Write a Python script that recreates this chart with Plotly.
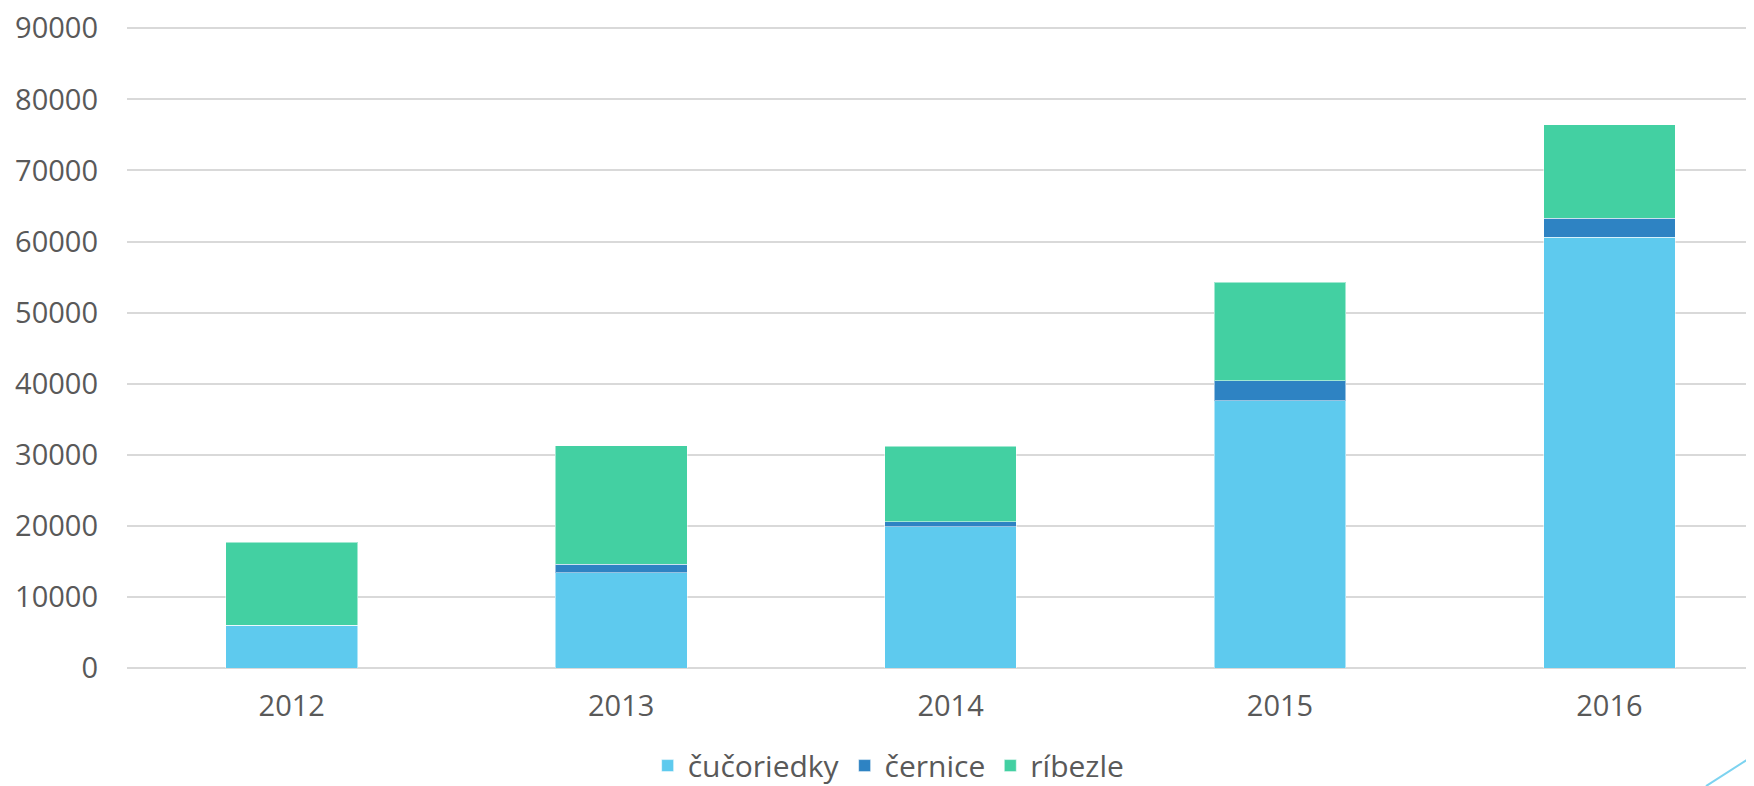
import plotly.graph_objects as go

years = ["2012", "2013", "2014", "2015", "2016"]
cucoriedky = [6000, 13400, 19900, 37600, 60600]
cernice = [0, 1200, 700, 2800, 2700]
ribezle = [11700, 16700, 10600, 13900, 13100]

series = [
    ("čučoriedky", cucoriedky, "#5ECAEE"),
    ("černice", cernice, "#2E83C3"),
    ("ríbezle", ribezle, "#43D0A2"),
]

fig = go.Figure()
for name, vals, col in series:
    fig.add_trace(go.Bar(
        x=years, y=vals, name=name,
        marker=dict(color=col, line=dict(color="rgba(255,255,255,0.5)", width=1)),
    ))

font_family = "Open Sans"
fig.update_layout(
    barmode="stack",
    bargap=0.6,
    width=1746, height=778,
    margin=dict(l=119, r=0, t=18, b=118, autoexpand=False),
    plot_bgcolor="white", paper_bgcolor="white",
    font=dict(family=font_family, size=29, color="#595959"),
    showlegend=True,
    legend=dict(orientation="h", x=0.320, xanchor="left", y=-0.152, yanchor="middle",
                font=dict(size=30, color="#595959"), traceorder="normal",
                itemwidth=30, tracegroupgap=0),
    xaxis=dict(type="category", range=[-0.5, 4.439], showgrid=False, showline=False,
               ticks="", automargin=False, ticklabelstandoff=18,
               tickfont=dict(size=29, color="#595959")),
    yaxis=dict(range=[0, 90324], tickvals=[0, 10000, 20000, 30000, 40000, 50000, 60000, 70000, 80000, 90000],
               showgrid=True, gridcolor="#D9D9D9",
               gridwidth=1.5, zeroline=True, zerolinecolor="#D9D9D9", zerolinewidth=1.5,
               showline=False, ticks="", tickformat="d", ticklabelstandoff=28,
               ticklabeloverflow="allow",
               automargin=False, tickfont=dict(size=29, color="#595959")),
    shapes=[dict(type="line", xref="paper", yref="paper", x0=0.9705, y0=-0.184,
                 x1=1.0, y1=-0.136, line=dict(color="#7DD3F0", width=2))],
)

fig.write_html("out.html")
